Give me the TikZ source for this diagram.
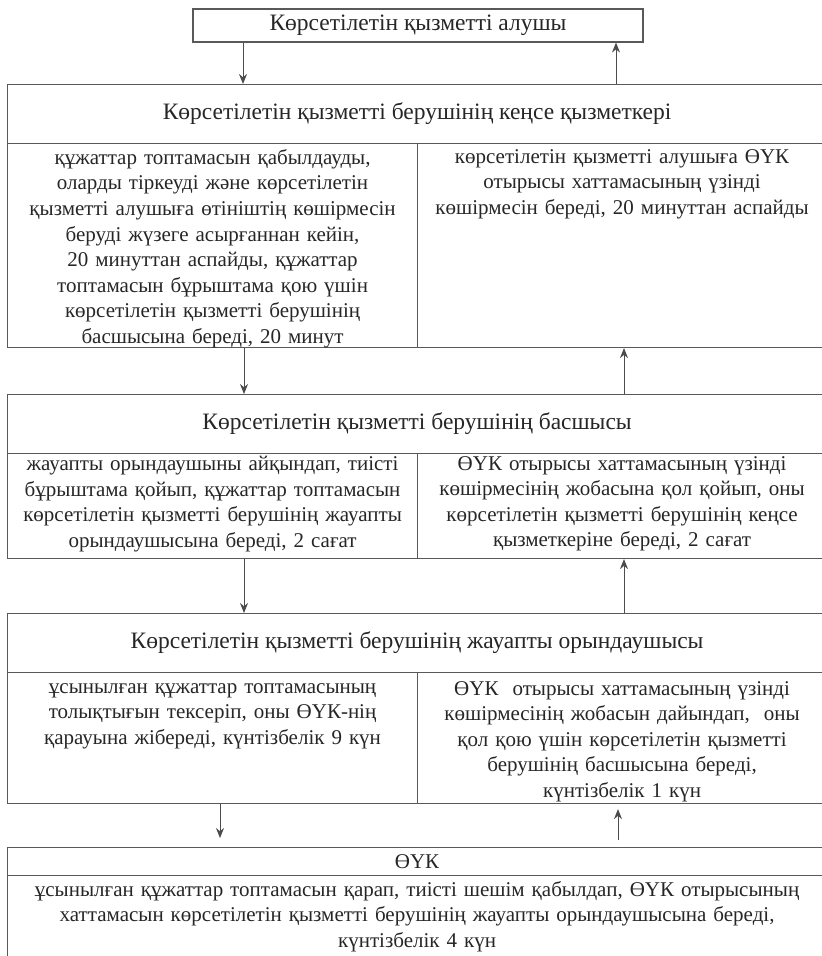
\documentclass[tikz,border=0pt]{standalone}
\usepackage{fontspec}
\setmainfont{Liberation Serif}
\usetikzlibrary{arrows.meta}
\begin{document}
\begin{tikzpicture}[x=1pt,y=-1pt,
  frame/.style={draw=black!65, line width=1.1pt, rectangle, inner sep=0pt},
  txt/.style={text=black!85, font=\fontsize{21}{25.6}\selectfont, align=center, inner sep=0pt},
  headtxt/.style={text=black!85, font=\fontsize{23.5}{28}\selectfont, align=center, inner sep=0pt},
  coltxt/.style={txt, text width=404pt, anchor=north},
  arr/.style={draw=black!70, line width=1pt, -{Stealth[length=10pt,width=8pt]}}
]
\clip (0,0) rectangle (822,956);
% x positions of connectors
\coordinate (xa) at (243,0);
\coordinate (xb) at (616,0);
\coordinate (xc) at (244,0);
\coordinate (xd) at (624,0);
\coordinate (xe) at (220,0);
\coordinate (xf) at (618,0);

% top box
\node[frame, headtxt, minimum width=450pt, minimum height=33pt] (recv) at (418,25.5) {Көрсетілетін қызметті алушы};

% box 2
\node[frame, headtxt, minimum width=819pt, minimum height=59pt, anchor=north west] (h2) at (7,84) {Көрсетілетін қызметті берушінің кеңсе қызметкері};
\node[frame, minimum width=410pt, minimum height=204pt, anchor=north west] (c2l) at (7,143) {};
\node[frame, minimum width=409pt, minimum height=204pt, anchor=north west] (c2r) at (417,143) {};
\node[coltxt] (t2l) at ([yshift=-6pt]c2l.north) {құжаттар топтамасын қабылдауды,\\оларды тіркеуді және көрсетілетін\\қызметті алушыға өтініштің көшірмесін\\беруді жүзеге асырғаннан кейін,\\20 минуттан аспайды, құжаттар\\топтамасын бұрыштама қою үшін\\көрсетілетін қызметті берушінің\\басшысына береді, 20 минут};
\node[coltxt] (t2r) at ([yshift=-6pt]c2r.north) {көрсетілетін қызметті алушыға ӨҮК\\отырысы хаттамасының үзінді\\көшірмесін береді, 20 минуттан аспайды};

% box 3
\node[frame, headtxt, minimum width=819pt, minimum height=59pt, anchor=north west] (h3) at (7,394) {Көрсетілетін қызметті берушінің басшысы};
\node[frame, minimum width=410pt, minimum height=105pt, anchor=north west] (c3l) at (7,453) {};
\node[frame, minimum width=409pt, minimum height=105pt, anchor=north west] (c3r) at (417,453) {};
\node[coltxt] (t3l) at ([yshift=-3pt]c3l.north) {жауапты орындаушыны айқындап, тиісті\\бұрыштама қойып, құжаттар топтамасын\\көрсетілетін қызметті берушінің жауапты\\орындаушысына береді, 2 сағат};
\node[coltxt] (t3r) at ([yshift=-3pt]c3r.north) {ӨҮК отырысы хаттамасының үзінді\\көшірмесінің жобасына қол қойып, оны\\көрсетілетін қызметті берушінің кеңсе\\қызметкеріне береді, 2 сағат};

% box 4
\node[frame, headtxt, minimum width=819pt, minimum height=59pt, anchor=north west] (h4) at (7,613) {Көрсетілетін қызметті берушінің жауапты орындаушысы};
\node[frame, minimum width=410pt, minimum height=131pt, anchor=north west] (c4l) at (7,672) {};
\node[frame, minimum width=409pt, minimum height=131pt, anchor=north west] (c4r) at (417,672) {};
\node[coltxt] (t4l) at ([yshift=-11pt]c4l.north) {ұсынылған құжаттар топтамасының\\толықтығын тексеріп, оны ӨҮК-нің\\қарауына жібереді, күнтізбелік 9 күн};
\node[coltxt] (t4r) at ([yshift=-9pt]c4r.north) {ӨҮК\ \ отырысы хаттамасының үзінді\\көшірмесінің жобасын дайындап,\ \ оны\\қол қою үшін көрсетілетін қызметті\\берушінің басшысына береді,\\күнтізбелік 1 күн};

% box 5
\node[frame, txt, minimum width=819pt, minimum height=28pt, anchor=north west] (h5) at (7,847) {ӨҮК};
\node[frame, minimum width=819pt, minimum height=100pt, anchor=north west] (c5) at (7,875) {};
\node[txt, text width=810pt, anchor=north] (t5) at ([yshift=-6pt]c5.north) {ұсынылған құжаттар топтамасын қарап, тиісті шешім қабылдап, ӨҮК отырысының\\хаттамасын көрсетілетін қызметті берушінің жауапты орындаушысына береді,\\күнтізбелік 4 күн};

% connectors
\draw[arr] (recv.south -| xa) -- (h2.north -| xa);
\draw[arr] (h2.north -| xb) -- (recv.south -| xb);
\draw[arr] (c2l.south -| xc) -- (h3.north -| xc);
\draw[arr] (h3.north -| xd) -- (c2r.south -| xd);
\draw[arr] (c3l.south -| xc) -- (h4.north -| xc);
\draw[arr] (h4.north -| xd) -- (c3r.south -| xd);
\draw[arr, shorten >=9pt] (c4l.south -| xe) -- (h5.north -| xe);
\draw[arr, shorten <=7pt, shorten >=5pt] (h5.north -| xf) -- (c4r.south -| xf);
\end{tikzpicture}
\end{document}
